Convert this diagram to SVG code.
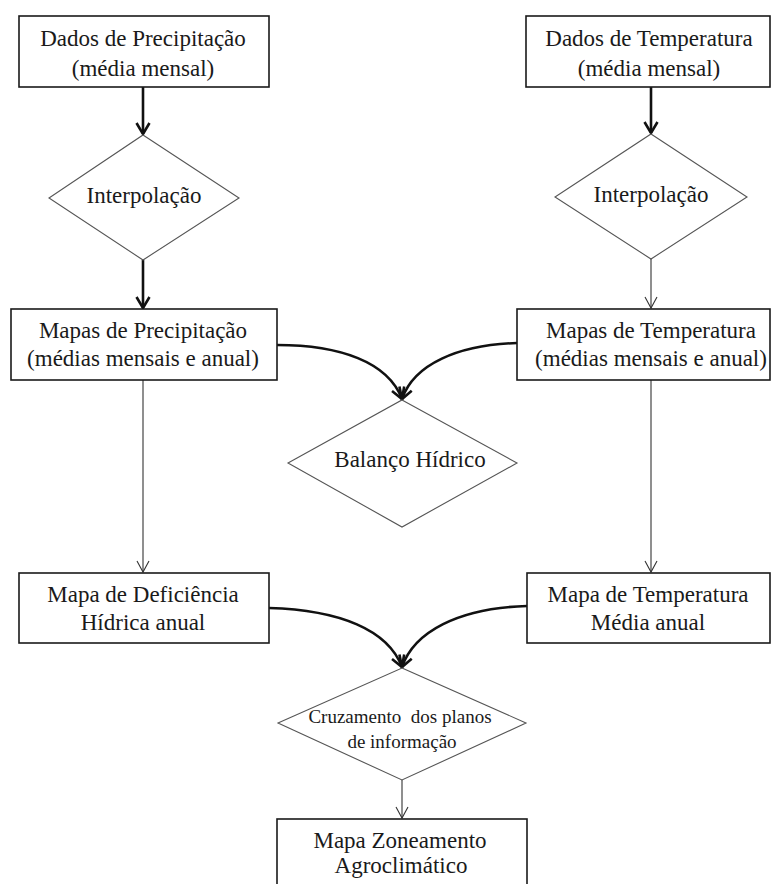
<svg xmlns="http://www.w3.org/2000/svg" width="772" height="884" viewBox="0 0 772 884">
<style>
.box{fill:#fff;stroke:#1a1a1a;stroke-width:1.6}
.dia{fill:#fff;stroke:#555;stroke-width:1.1}
.t{font-family:"Liberation Serif","Times New Roman",serif;font-size:23px;fill:#1a1a1a;text-anchor:middle}
.ts{font-family:"Liberation Serif","Times New Roman",serif;font-size:19px;fill:#1a1a1a;text-anchor:middle;white-space:pre}
.thick{fill:none;stroke:#111;stroke-width:2.6;marker-end:url(#ahThick)}
.thin{fill:none;stroke:#333;stroke-width:1.1;marker-end:url(#ahThin)}
</style>
<defs>
<marker id="ahThick" viewBox="0 0 14 16" refX="12" refY="8" markerWidth="14" markerHeight="16" markerUnits="userSpaceOnUse" orient="auto">
<path d="M1,1.5 L12,8 L1,14.5" fill="none" stroke="#111" stroke-width="2.6" stroke-linejoin="miter"/>
</marker>
<marker id="ahThin" viewBox="0 0 14 16" refX="12" refY="8" markerWidth="14" markerHeight="16" markerUnits="userSpaceOnUse" orient="auto">
<path d="M1,2 L12,8 L1,14" fill="none" stroke="#333" stroke-width="1.1"/>
</marker>
</defs>
<rect width="772" height="884" fill="#fff"/>
<g id="connectors">
<line class="thick" x1="143" y1="87" x2="143" y2="134"/>
<line class="thick" x1="143" y1="260" x2="143" y2="308"/>
<line class="thick" x1="651" y1="87" x2="651" y2="133"/>
<line class="thin" x1="651" y1="259" x2="651" y2="308"/>
<line class="thin" x1="143" y1="380" x2="143" y2="572"/>
<line class="thin" x1="651" y1="380" x2="651" y2="572"/>
<path class="thick" d="M277,345 C340,345 388,362 402,399"/>
<path class="thick" d="M517,343 C458,345 414,364 402,399"/>
<path class="thick" d="M269,608 C340,610 388,630 402,667"/>
<path class="thick" d="M527,606 C458,608 414,632 402,667"/>
<line class="thin" x1="402" y1="780" x2="402" y2="818"/>
</g>
<g id="dadosPrecipitacao">
<rect class="box" x="19" y="16" width="250" height="71"/>
<text class="t" x="143" y="46">Dados de Precipitação</text>
<text class="t" x="143" y="76">(média mensal)</text>
</g>
<g id="dadosTemperatura">
<rect class="box" x="526" y="16" width="244" height="71"/>
<text class="t" x="649" y="46">Dados de Temperatura</text>
<text class="t" x="649" y="76">(média mensal)</text>
</g>
<g id="interpolacao1">
<polygon class="dia" points="143,135 239,198 143,260 49,198"/>
<text class="t" x="144" y="203">Interpolação</text>
</g>
<g id="interpolacao2">
<polygon class="dia" points="651,134 747,197 651,259 555,197"/>
<text class="t" x="651" y="202">Interpolação</text>
</g>
<g id="mapasPrecipitacao">
<rect class="box" x="11" y="309" width="266" height="71"/>
<text class="t" x="143" y="338">Mapas de Precipitação</text>
<text class="t" x="143" y="366">(médias mensais e anual)</text>
</g>
<g id="mapasTemperatura">
<rect class="box" x="517" y="309" width="253" height="71"/>
<text class="t" x="651" y="338">Mapas de Temperatura</text>
<text class="t" x="651" y="366">(médias mensais e anual)</text>
</g>
<g id="balancoHidrico">
<polygon class="dia" points="402,400 517,463 402,527 288,463"/>
<text class="t" x="410" y="467">Balanço Hídrico</text>
</g>
<g id="mapaDeficiencia">
<rect class="box" x="19" y="573" width="250" height="70"/>
<text class="t" x="143" y="602">Mapa de Deficiência</text>
<text class="t" x="143" y="630">Hídrica anual</text>
</g>
<g id="mapaTemperaturaMedia">
<rect class="box" x="527" y="573" width="243" height="70"/>
<text class="t" x="648" y="602">Mapa de Temperatura</text>
<text class="t" x="648" y="630">Média anual</text>
</g>
<g id="cruzamento">
<polygon class="dia" points="402,668 526,723 402,780 278,723"/>
<text class="ts" x="400" y="723">Cruzamento  dos planos</text>
<text class="ts" x="402" y="748">de informação</text>
</g>
<g id="mapaZoneamento">
<rect class="box" x="277" y="819" width="250" height="80"/>
<text class="t" x="400" y="848">Mapa Zoneamento</text>
<text class="t" x="401" y="873">Agroclimático</text>
</g>
</svg>
